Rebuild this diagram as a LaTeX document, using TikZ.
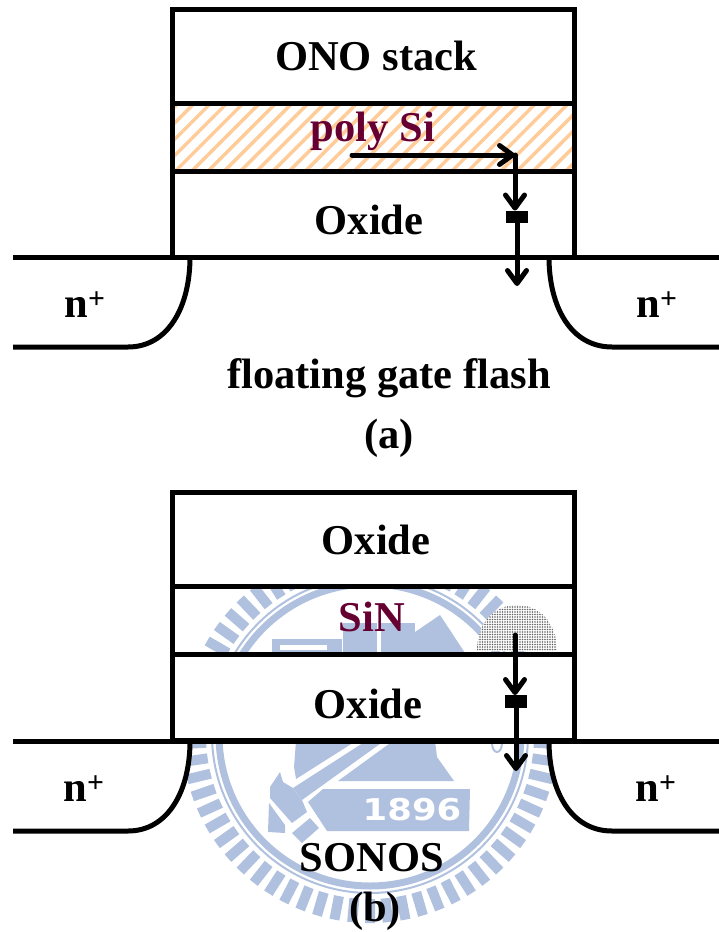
\documentclass[tikz,border=0pt]{standalone}
\usepackage{fontspec}
\setmainfont{Liberation Serif}
\newfontfamily\yearfont{DejaVu Sans}
\usetikzlibrary{arrows.meta,patterns.meta,positioning}
\definecolor{sealblue}{HTML}{B0C1DF}
\definecolor{stackred}{HTML}{660033}
\definecolor{hatchorange}{HTML}{FFCC99}
\tikzset{>={Straight Barb[round,length=13pt,width=19pt]},
         layer/.style={draw,line width=5pt,minimum width=402pt,inner sep=0pt,outer sep=0pt},
         layertext/.style={font=\fontsize{42.5}{43}\selectfont\bfseries},
         redtext/.style={layertext,text=stackred},
         trap/.style={fill,minimum width=22pt,minimum height=12.5pt,inner sep=0pt},
         flow/.style={->,line width=5pt,line cap=round},
         edgeline/.style={line width=5pt}}
\newcommand{\drawdiode}[1]{% n+ regions of one device, base line at y=#1
  \fill[white] (13,#1) -- (190,#1) .. controls (190,#1+50) and (168,#1+90) .. (128,#1+90) -- (13,#1+90) -- cycle;
  \fill[white] (719,#1) -- (549,#1) .. controls (549,#1+50) and (571,#1+90) .. (612,#1+90) -- (719,#1+90) -- cycle;
  \draw[edgeline] (13,#1+90) -- (128,#1+90) .. controls (168,#1+90) and (190,#1+50) .. (190,#1);
  \draw[edgeline] (719,#1+90) -- (612,#1+90) .. controls (571,#1+90) and (549,#1+50) .. (549,#1);
  \draw[edgeline] (13,#1) -- (719,#1);}
\begin{document}
\begin{tikzpicture}[x=1pt,y=-1pt]
  \useasboundingbox (0,0) rectangle (719,932);
  % seal behind device (b)
  \foreach \n in {0,...,65}
    \fill[sealblue,rotate around={\n*5.4545:(370,735)}] (365,547) rectangle (375,571);
  \draw[sealblue,line width=7pt] (370,735) circle (151);
  \draw[sealblue,line width=2pt] (370,735) circle (158);
  \fill[sealblue] (272,639) rectangle (342,656);
  \fill[white] (280,645) rectangle (327,650);
  \fill[sealblue] (343,623) rectangle (377,656);
  \fill[sealblue] (381,623) rectangle (415,656);
  \fill[sealblue] (415,632) -- (440,615) -- (467,656) -- (415,656) -- cycle;
  \fill[sealblue] (296,741) -- (294,767) -- (296,779) -- (356,741) -- cycle;
  \fill[sealblue] (366,741) -- (384,741) -- (302,800) -- (293,788) -- cycle;
  \fill[sealblue] (280,772) -- (270,787) -- (270,798) -- (292,823) -- (307,812) -- (302,800) -- (293,788) -- (283,782) -- cycle;
  \fill[sealblue] (269,803) -- (285,825) -- (285,833) -- (268,832) -- cycle;
  \fill[sealblue] (292,833) -- (310,818) -- (319,828) -- (302,843) -- cycle;
  \fill[sealblue] (393,741) -- (435,741) -- (437,757) -- (454,781) -- (338,781) -- cycle;
  \fill[sealblue] (323,789) -- (470,789) -- (469,831) -- (327,831) -- (308,802) -- cycle;
  \draw[sealblue,line width=2pt] (497,743) ellipse (5 and 9);
  \node[text=white,font=\yearfont\bfseries\fontsize{30}{30}\selectfont,xscale=1.18] (year) at (412,810) {1896};
  % device (a)
  \node[layer,fill=white,minimum height=94pt] (onoA) at (373,56) {};
  \node[layer,pattern={Lines[angle=45,distance=11.5pt,line width=3.5pt]},pattern color=hatchorange,minimum height=68pt,below=0pt of onoA] (polyA) {};
  \node[layer,fill=white,minimum height=86pt,below=0pt of polyA] (oxideA) {};
  \drawdiode{257}
  \node[layertext] (onoAtext) at (376,56) {ONO stack};
  \node[redtext] (polyAtext) at (373,131) {poly Si};
  \node[layertext] (oxideAtext) at (369,220) {Oxide};
  \node[layertext] (nAl) at (85,305) {n\textsuperscript{+}};
  \node[layertext] (nAr) at (657,305) {n\textsuperscript{+}};
  \node[layertext] (nameA) at (389,378) {floating gate flash};
  \node[layertext] (tagA) at (389,438) {(a)};
  \node[trap] (trapA) at (517,217) {};
  \coordinate (startA) at (352,155);
  \coordinate (turnA) at (515,155);
  \coordinate (endA) at (517,286);
  \draw[flow] (startA) -- (turnA);
  \draw[flow] (turnA) -- (turnA |- trapA.north);
  \draw[flow] ([yshift=4pt]trapA.south) -- (endA);
  % device (b)
  \node[layer,fill=white,minimum height=94pt] (oxideBtop) at (373,539.5) {};
  \node[layer,minimum height=68pt,below=0pt of oxideBtop] (sinB) {};
  \node[layer,fill=white,minimum height=86pt,below=0pt of sinB] (oxideB) {};
  \path[preaction={fill=white},pattern={Dots[distance=2.5pt,radius=.9pt]},pattern color=black!60] (477,651) .. controls (477,622) and (495,605) .. (517,605) .. controls (539,605) and (557,622) .. (557,651) -- cycle;
  \drawdiode{741}
  \node[layertext] (oxideBtoptext) at (376,540) {Oxide};
  \node[redtext] (sinBtext) at (372,617) {SiN};
  \node[layertext] (oxideBtext) at (368,704) {Oxide};
  \node[layertext] (nBl) at (84,789) {n\textsuperscript{+}};
  \node[layertext] (nBr) at (656,789) {n\textsuperscript{+}};
  \node[layertext] (nameB) at (372,858) {SONOS};
  \node[layertext] (tagB) at (375,911) {(b)};
  \node[trap] (trapB) at (516,701.5) {};
  \coordinate (startB) at (515,635);
  \coordinate (endB) at (516,771);
  \draw[flow] (startB) -- (startB |- trapB.north);
  \draw[flow] ([yshift=4pt]trapB.south) -- (endB);
\end{tikzpicture}
\end{document}
